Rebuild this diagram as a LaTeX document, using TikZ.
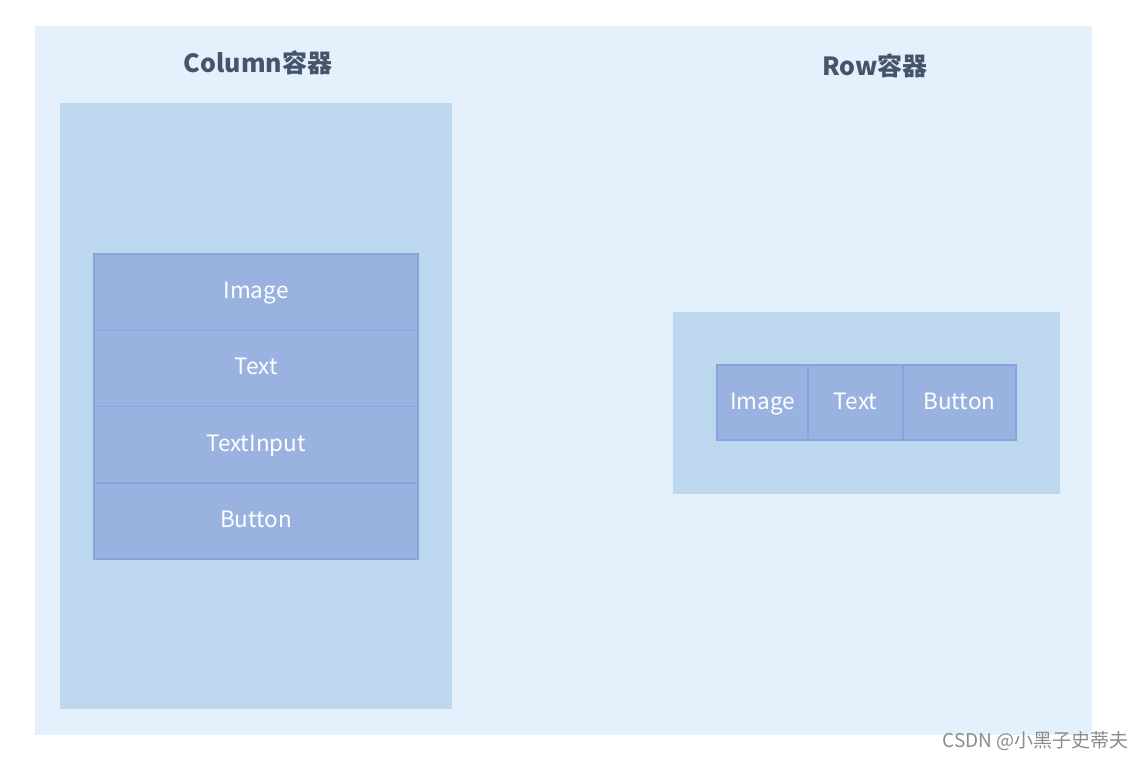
\documentclass[tikz,border=0pt]{standalone}
\usepackage{fontspec}
\setmainfont{Noto Sans}
\newfontfamily\cjk{Noto Sans CJK SC}
\usetikzlibrary{positioning}

\definecolor{bgfill}{HTML}{E4F0FC}
\definecolor{panelfill}{HTML}{BCD7EE}
\definecolor{cellfill}{HTML}{99B2E0}
\definecolor{cellline}{HTML}{87A5DB}
\definecolor{titlecol}{HTML}{44546A}
\definecolor{markcol}{HTML}{8C8C8C}

\tikzset{
  panel/.style={fill=panelfill, draw=none, inner sep=0pt, outer sep=0pt},
  cell/.style={draw=cellline, line width=1.5pt, fill=cellfill, text=white,
    inner sep=0pt, outer sep=0pt, text height=1.3em, text depth=0em,
    font=\cjk\fontsize{22.5}{26}\selectfont},
  colcell/.style={cell, minimum width=324pt, minimum height=76.25pt},
  rowcell/.style={cell, minimum height=75pt},
  heading/.style={text=titlecol, font=\cjk\bfseries\fontsize{25}{28}\selectfont}
}

\begin{document}
\begin{tikzpicture}[x=1pt, y=-1pt]

    % Page and light background
    \fill[white] (0,0) rectangle (1147,761);
    \useasboundingbox (0,0) rectangle (1147,761);
    \fill[bgfill] (35,26) rectangle (1092,735);

    % --- COLUMN CONTAINER ---
    \node[heading] (coltitle) at (258,63) {Column容器};
    \node[panel, anchor=north west, minimum width=392pt, minimum height=606pt]
      (colpanel) at (60,103) {};
    \node[colcell, anchor=north west] (colimage) at (94,254) {Image};
    \node[colcell, below=0pt of colimage] (coltext) {Text};
    \node[colcell, below=0pt of coltext] (colinput) {TextInput};
    \node[colcell, below=0pt of colinput] (colbutton) {Button};

    % --- ROW CONTAINER ---
    \node[heading] (rowtitle) at (875,66) {Row容器};
    \node[panel, anchor=north west, minimum width=387pt, minimum height=182pt]
      (rowpanel) at (673,312) {};
    \node[rowcell, minimum width=91pt, anchor=north west] (rowimage) at (717,365) {Image};
    \node[rowcell, minimum width=95pt, right=0pt of rowimage] (rowtext) {Text};
    \node[rowcell, minimum width=113pt, right=0pt of rowtext] (rowbutton) {Button};

    % Watermark
    \node[text=markcol, font=\cjk\fontsize{19}{22}\selectfont, anchor=east]
      (mark) at (1132,741) {CSDN @小黑子史蒂夫};

\end{tikzpicture}
\end{document}
